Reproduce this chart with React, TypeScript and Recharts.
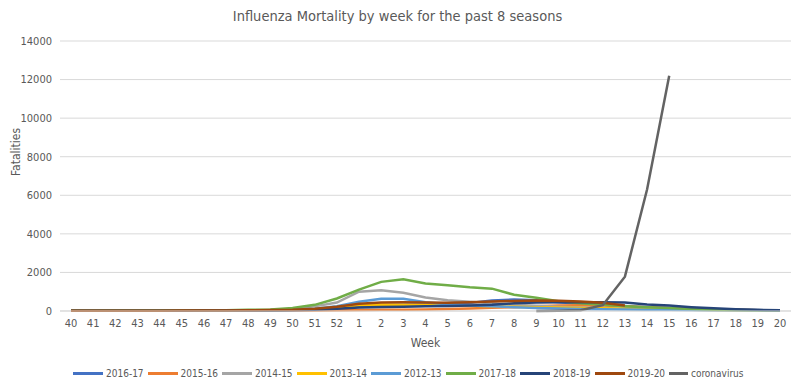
import React from 'react';
import { LineChart, Line, XAxis, YAxis, CartesianGrid, Legend } from 'recharts';

// Week labels: season runs from week 40 to week 20 of the following year
const weeks = [
  '40', '41', '42', '43', '44', '45', '46', '47', '48', '49', '50', '51', '52',
  '1', '2', '3', '4', '5', '6', '7', '8', '9', '10', '11', '12', '13', '14', '15', '16', '17', '18', '19', '20',
];

const s2016_17 = [10, 10, 12, 14, 16, 18, 20, 24, 28, 35, 50, 80, 130, 230, 300, 320, 340, 380, 420, 540, 600, 560, 450, 380, 320, 260, 200, 150, 110, 80, 60, 40, 30];
const s2015_16 = [8, 8, 9, 10, 12, 14, 16, 18, 20, 24, 28, 32, 38, 50, 60, 70, 80, 100, 130, 170, 200, 240, 280, 300, 280, 240, 190, 150, 110, 80, 60, 40, 30];
const s2014_15 = [10, 12, 14, 16, 18, 22, 26, 32, 40, 55, 110, 240, 440, 1000, 1070, 950, 700, 560, 480, 400, 330, 270, 220, 180, 150, 120, 100, 80, 60, 50, 40, 30, 20];
const s2013_14 = [8, 9, 10, 12, 14, 16, 20, 24, 30, 40, 60, 100, 180, 300, 340, 330, 310, 290, 270, 250, 220, 200, 180, 160, 140, 120, 100, 80, 60, 50, 40, 30, 20];
const s2012_13 = [8, 9, 10, 12, 14, 16, 20, 24, 30, 40, 60, 120, 250, 480, 640, 630, 450, 350, 280, 240, 200, 160, 130, 110, 90, 80, 70, 60, 50, 40, 35, 30, 25];
const s2017_18 = [15, 15, 20, 20, 25, 30, 35, 45, 60, 80, 150, 320, 650, 1110, 1510, 1640, 1430, 1330, 1230, 1160, 840, 690, 500, 400, 320, 250, 200, 150, 110, 70, 50, 35, 25];
const s2018_19 = [10, 10, 12, 14, 16, 18, 20, 22, 26, 30, 40, 60, 120, 180, 210, 220, 240, 260, 290, 330, 400, 440, 460, 460, 450, 440, 340, 280, 200, 140, 90, 60, 40];
const s2019_20 = [10, 12, 14, 16, 18, 22, 26, 30, 38, 50, 70, 120, 220, 380, 440, 450, 440, 430, 450, 490, 520, 540, 530, 490, 430, 290, null, null, null, null, null, null, null];
const coronavirus = [null, null, null, null, null, null, null, null, null, null, null, null, null, null, null, null, null, null, null, null, null, 0, 10, 40, 300, 1780, 6300, 12200, null, null, null, null, null];

const yTicks = [0, 2000, 4000, 6000, 8000, 10000, 12000, 14000];

const seriesList = [
  { key: '2016-17', values: s2016_17, color: '#4472C4' },
  { key: '2015-16', values: s2015_16, color: '#ED7D31' },
  { key: '2014-15', values: s2014_15, color: '#A5A5A5' },
  { key: '2013-14', values: s2013_14, color: '#FFC000' },
  { key: '2012-13', values: s2012_13, color: '#5B9BD5' },
  { key: '2017-18', values: s2017_18, color: '#70AD47' },
  { key: '2018-19', values: s2018_19, color: '#264478' },
  { key: '2019-20', values: s2019_20, color: '#9E480E' },
  { key: 'coronavirus', values: coronavirus, color: '#636363' },
];
const seriesOrder = seriesList.map((s) => s.key);

const data = weeks.map((week, i) => {
  const row: Record<string, string | number | null> = { week };
  seriesList.forEach((s) => {
    row[s.key] = s.values[i];
  });
  return row;
});

const FONT = '"Liberation Sans Narrow", "DejaVu Sans Condensed", "Noto Sans", sans-serif';
const TEXT = '#595959';

function LegendRow({ payload }: any) {
  // keep the series order instead of the alphabetical one
  const items = [...(payload || [])].sort(
    (a: any, b: any) => seriesOrder.indexOf(a.value) - seriesOrder.indexOf(b.value)
  );
  return (
    <div style={{ display: 'flex', paddingLeft: 73, marginTop: 9, fontFamily: FONT, fontSize: 10, color: TEXT }}>
      {items.map((item: any) => (
        <div key={item.value} style={{ width: 74.5, display: 'flex', alignItems: 'center' }}>
          <span style={{ display: 'inline-block', width: 30, height: 3, background: item.color, marginRight: 3 }} />
          <span>{item.value}</span>
        </div>
      ))}
    </div>
  );
}

export default function App() {
  return (
    <div style={{ position: 'absolute', left: 0, top: 0, width: 800, height: 389, background: '#fff', fontFamily: FONT }}>
      <div
        style={{
          position: 'absolute',
          top: 8,
          left: 0,
          width: 795,
          textAlign: 'center',
          fontSize: 14.5,
          color: TEXT,
        }}
      >
        Influenza Mortality by week for the past 8 seasons
      </div>
      <LineChart width={800} height={389} data={data} margin={{ top: 41, right: 9, left: 0, bottom: 0 }}>
        <CartesianGrid vertical={false} stroke="#d9d9d9" />
        <XAxis
          dataKey="week"
          interval={0}
          tickLine={false}
          axisLine={{ stroke: '#d9d9d9' }}
          padding={{ left: 11, right: 11 }}
          height={48}
          tick={{ fill: TEXT, fontSize: 11, fontFamily: FONT }}
          label={{ value: 'Week', position: 'insideBottom', offset: 12, fill: TEXT, fontSize: 12, fontFamily: FONT }}
        />
        <YAxis
          domain={[0, 14000]}
          ticks={yTicks}
          axisLine={false}
          tickLine={false}
          width={60}
          tick={{ fill: TEXT, fontSize: 11, fontFamily: FONT }}
          label={{ value: 'Fatalities', angle: -90, position: 'insideLeft', offset: 16, fill: TEXT, fontSize: 12, fontFamily: FONT }}
        />
        <Legend verticalAlign="bottom" height={30} content={<LegendRow />} />
        {seriesList.map((s) => (
          <Line
            key={s.key}
            type="linear"
            dataKey={s.key}
            stroke={s.color}
            strokeWidth={2.5}
            dot={false}
            activeDot={false}
            isAnimationActive={false}
          />
        ))}
      </LineChart>
    </div>
  );
}
